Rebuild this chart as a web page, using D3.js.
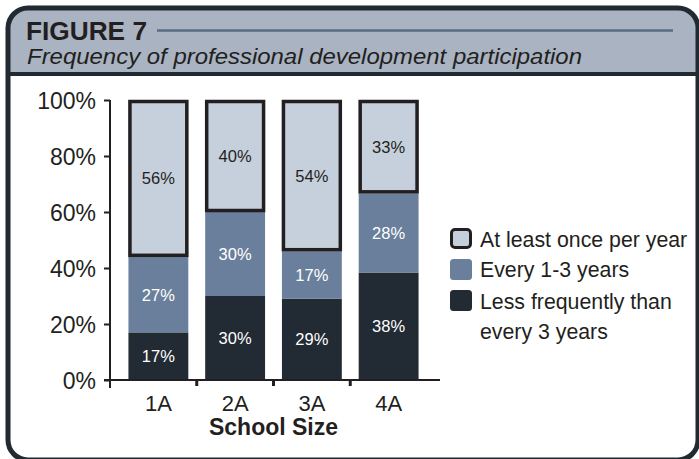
<!DOCTYPE html>
<html><head><meta charset="utf-8">
<script src="https://cdn.jsdelivr.net/npm/d3@7"></script>
<style>body{margin:0;background:#fff}svg{display:block}</style>
</head><body>
<svg id="c" width="699" height="459"></svg>
<script>
const categories = ["1A","2A","3A","4A"];
const seriesNames = ["Less frequently than every 3 years","Every 1-3 years","At least once per year"];
const lessFrequent = [17,30,29,38];
const every13 = [27,30,17,28];
const atLeastOnce = [56,40,54,33];
const yTicks = [0,20,40,60,80,100];
const colors = ["#222a33","#6a7f9b","#c6d0dc"];

const svg = d3.select("#c");
const font = "Liberation Sans, Arial, sans-serif";

// frame
svg.append("rect").attr("x",8).attr("y",8).attr("width",690).attr("height",452)
  .attr("rx",20).attr("fill","#fff");
svg.append("clipPath").attr("id","fc").append("rect").attr("x",8).attr("y",8).attr("width",690).attr("height",452).attr("rx",20);
svg.append("rect").attr("x",0).attr("y",0).attr("width",699).attr("height",74)
  .attr("fill","#a9b3c2").attr("clip-path","url(#fc)");
svg.append("line").attr("x1",8).attr("x2",699).attr("y1",74).attr("y2",74)
  .attr("stroke","#222a31").attr("stroke-width",4);
svg.append("rect").attr("x",8).attr("y",8).attr("width",690).attr("height",452)
  .attr("rx",20).attr("fill","none").attr("stroke","#222a31").attr("stroke-width",5);

svg.append("text").attr("x",26).attr("y",40).attr("font-family",font).attr("font-weight","bold")
  .attr("font-size",25).attr("fill","#231f20").attr("textLength",121).attr("lengthAdjust","spacingAndGlyphs").text("FIGURE 7");
svg.append("line").attr("x1",157).attr("x2",673).attr("y1",30.5).attr("y2",30.5)
  .attr("stroke","#5b6d82").attr("stroke-width",2.5);
svg.append("text").attr("x",27).attr("y",64).attr("font-family",font).attr("font-style","italic")
  .attr("font-size",22.5).attr("fill","#231f20").attr("textLength",555).attr("lengthAdjust","spacingAndGlyphs")
  .text("Frequency of professional development participation");

// scales
const x = d3.scaleBand().domain(categories).range([120,427]).paddingInner(0.22).paddingOuter(0.11);
const y = d3.scaleLinear().domain([0,100]).range([380,100]);

const table = categories.map((c,i)=>({cat:c, s0:lessFrequent[i], s1:every13[i], s2:atLeastOnce[i]}));
const stacker = d3.stack().keys(["s0","s1","s2"]).offset(d3.stackOffsetExpand);
const layers = stacker(table);

const g = svg.append("g");
layers.forEach((layer,li)=>{
  g.selectAll(null).data(layer).enter().append("rect")
    .attr("x",d=>x(d.data.cat)).attr("width",x.bandwidth())
    .attr("y",d=>y(d[1]*100)).attr("height",d=>y(d[0]*100)-y(d[1]*100))
    .attr("fill",colors[li]);
});
// outline top segment
const topLayer = layers[2];
g.selectAll(null).data(topLayer).enter().append("rect")
  .attr("x",d=>x(d.data.cat)+1.5).attr("width",x.bandwidth()-3)
  .attr("y",d=>y(d[1]*100)+1.5).attr("height",d=>y(d[0]*100)-y(d[1]*100)-3)
  .attr("fill","none").attr("stroke","#231f20").attr("stroke-width",3.5);
// labels
layers.forEach((layer,li)=>{
  g.selectAll(null).data(layer).enter().append("text")
    .attr("x",d=>x(d.data.cat)+x.bandwidth()/2)
    .attr("y",d=>(y(d[0]*100)+y(d[1]*100))/2+6)
    .attr("text-anchor","middle").attr("font-family",font).attr("font-size",16.5)
    .attr("fill",li===2?"#231f20":"#fff")
    .text(d=>d.data[layer.key]+"%");
});

// y axis
const ya = svg.append("g").attr("transform","translate(110,0)")
  .call(d3.axisLeft(y).tickValues(yTicks).tickFormat(d=>d+"%").tickSize(6).tickPadding(8));
ya.select(".domain").attr("d","M0,100V388").attr("stroke","#231f20").attr("stroke-width",2);
ya.selectAll(".tick line").attr("stroke","#231f20").attr("stroke-width",2);
ya.selectAll(".tick text").attr("font-family",font).attr("font-size",23).attr("fill","#231f20").attr("dy","0.36em");

// x axis
const xa = svg.append("g").attr("transform","translate(0,380)")
  .call(d3.axisBottom(x).tickSize(0).tickPadding(0));
xa.select(".domain").attr("d","M104,0H440").attr("stroke","#231f20").attr("stroke-width",2);
xa.selectAll(".tick text").attr("font-family",font).attr("font-size",22).attr("fill","#231f20")
  .attr("dy",0).attr("y",31);
const step = x.step();
xa.selectAll(null).data(categories.slice(1)).enter().append("line")
  .attr("x1",d=>x(d)-step*x.paddingInner()/2).attr("x2",d=>x(d)-step*x.paddingInner()/2)
  .attr("y1",0).attr("y2",6).attr("stroke","#231f20").attr("stroke-width",3);
svg.append("text").attr("x",273.5).attr("y",435).attr("text-anchor","middle")
  .attr("font-family",font).attr("font-weight","bold").attr("font-size",23).attr("fill","#231f20").text("School Size");

// legend
const legend = [
  {name:"At least once per year", c:colors[2], outline:true, lines:["At least once per year"]},
  {name:"Every 1-3 years", c:colors[1], outline:false, lines:["Every 1-3 years"]},
  {name:"Less frequently than every 3 years", c:colors[0], outline:false, lines:["Less frequently than","every 3 years"]}
];
const ly = [228,259,290];
const lb = [[247],[277],[309,339]];
legend.forEach((d,i)=>{
  svg.append("rect").attr("x",d.outline?451.5:450).attr("y",d.outline?ly[i]+1.5:ly[i])
    .attr("width",d.outline?19:22).attr("height",d.outline?18:21).attr("rx",3.5)
    .attr("fill",d.c).attr("stroke",d.outline?"#231f20":"none").attr("stroke-width",3);
  d.lines.forEach((t,j)=>{
    svg.append("text").attr("x",480).attr("y",lb[i][j]).attr("font-family",font)
      .attr("font-size",21.3).attr("fill","#231f20").text(t);
  });
});
</script>
</body></html>
